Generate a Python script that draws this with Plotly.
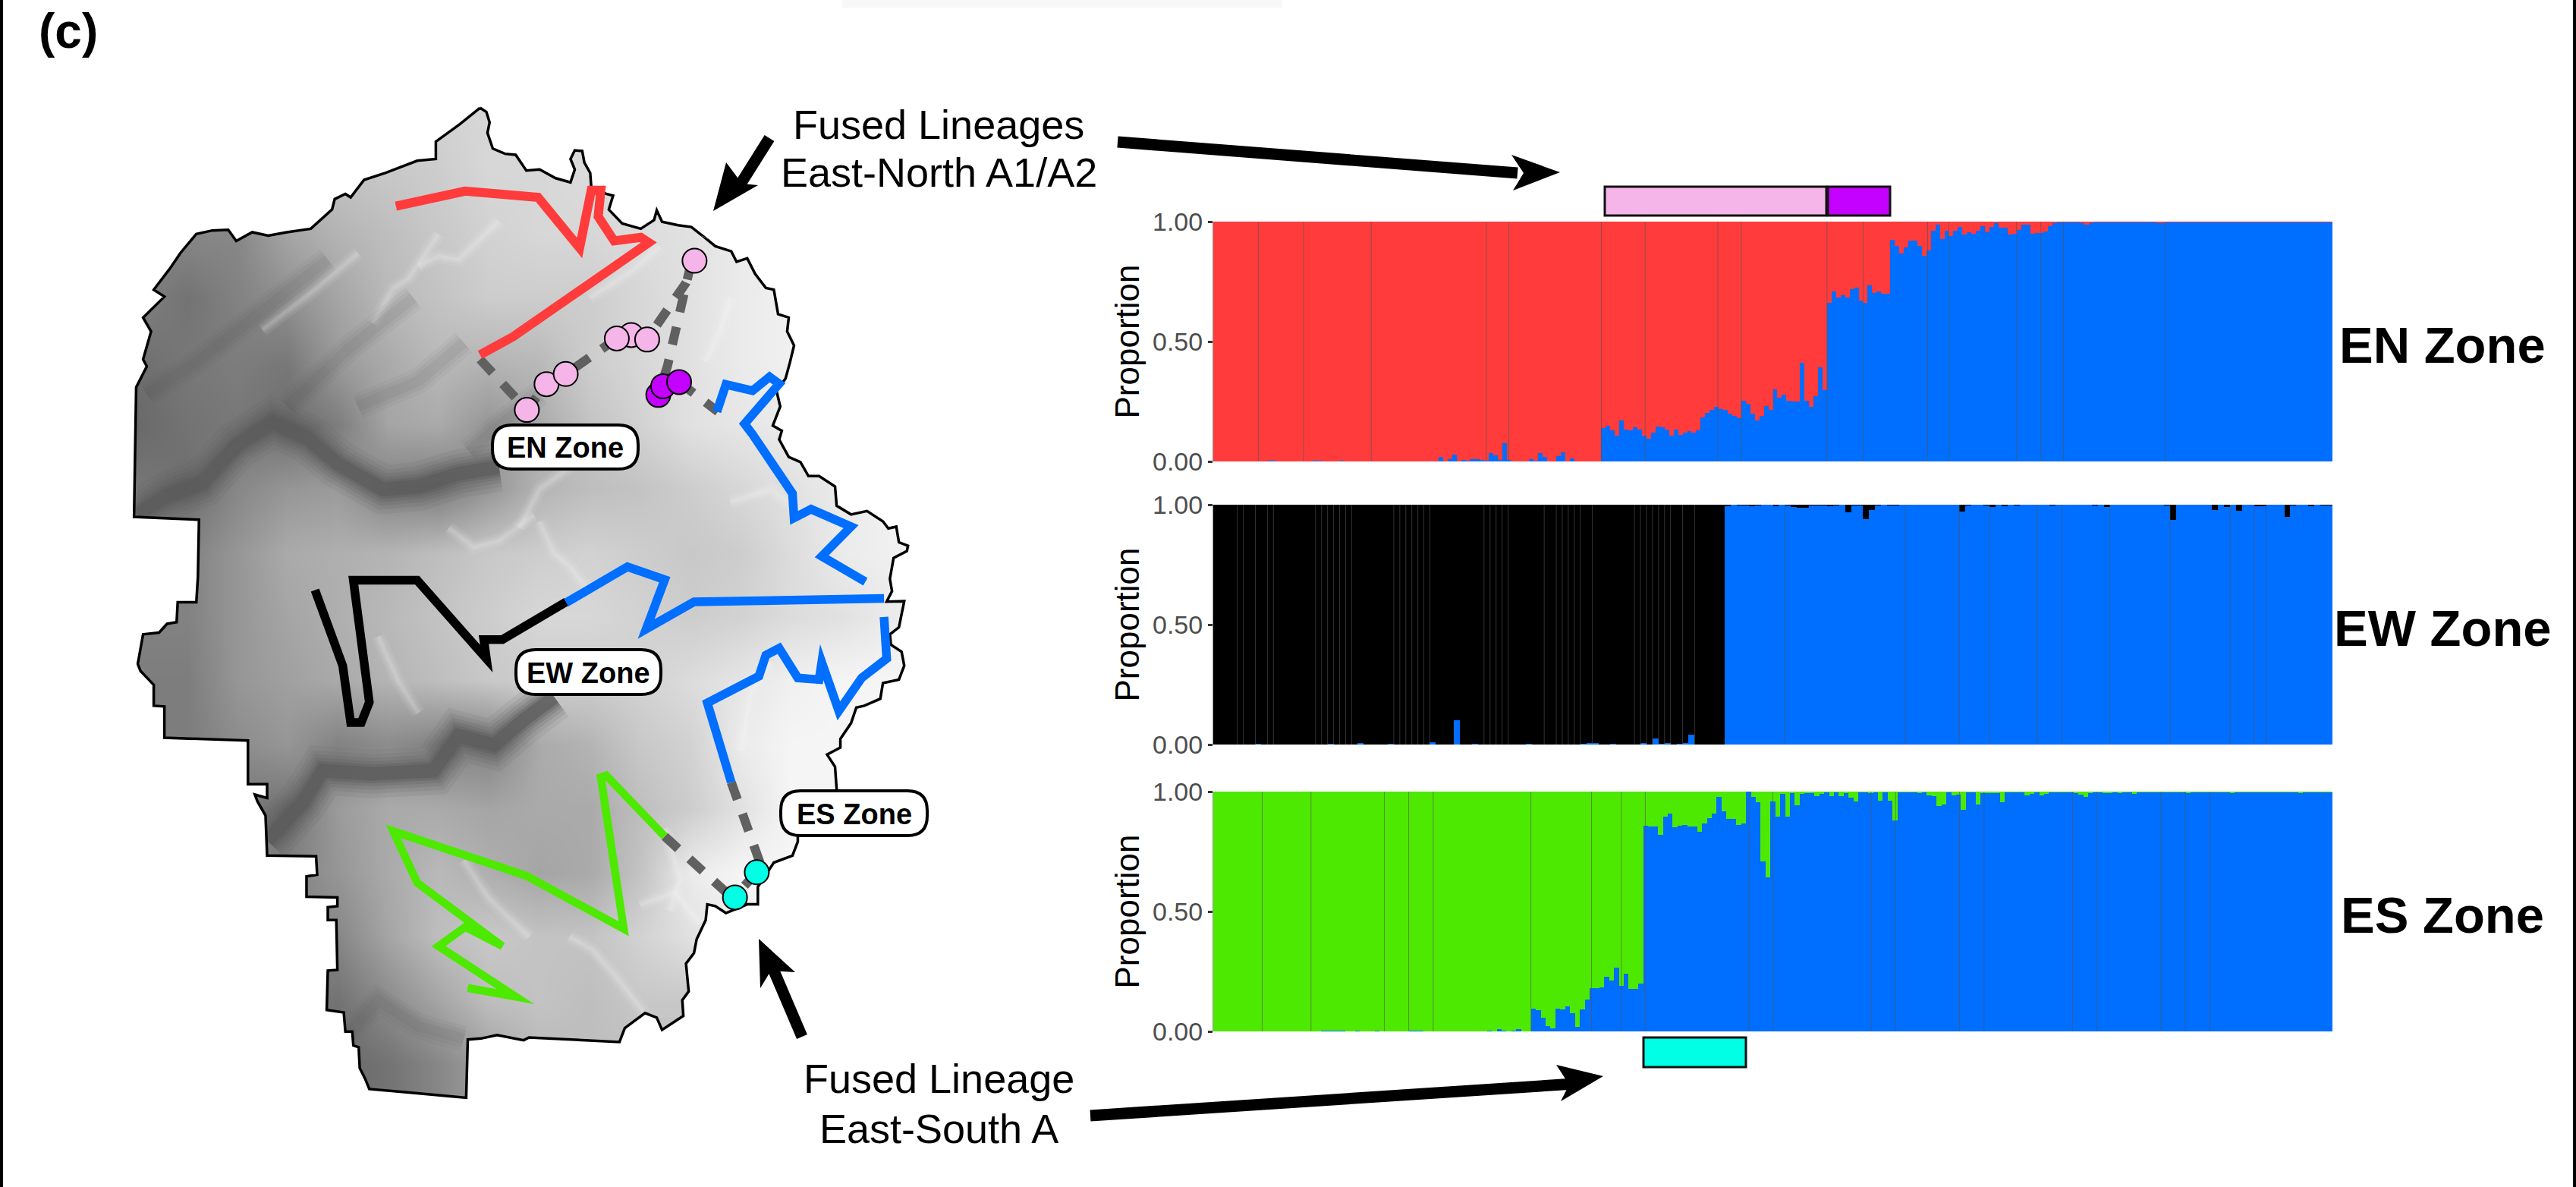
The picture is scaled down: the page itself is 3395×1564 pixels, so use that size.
import numpy as np
import plotly.graph_objects as go

W, H = 3395, 1564

# ---------- admixture proportions (blue share per individual) ----------
EN_BLUE = [
 0.001,0.001,0.001,0.001,0.001,0.001,0.001,0.001,0.001,0.001,0.001,0.001,0.002,0.002,0.001,0.001,0.001,0.001,0.001,0.001,
 0.001,0.001,0.002,0.002,0.001,0.001,0.001,0.001,0.002,0.001,0.001,0.001,0.001,0.001,0.001,0.001,0.001,0.001,0.001,0.001,
 0.001,0.001,0.001,0.001,0.001,0.001,0.001,0.001,0.001,0.001,
 0.020,0.000,0.010,0.028,0.000,0.005,0.004,0.009,0.008,0.006,0.002,0.035,0.024,0.005,0.077,0.005,0.000,0.000,0.001,0.001,
 0.008,0.004,0.034,0.020,0.001,0.001,0.023,0.038,0.001,0.012,0.001,0.001,0.001,0.001,0.001,0.001,
 .138,.148,.129,.109,.170,.133,.130,.142,.133,.108,.095,.119,.146,.141,.133,.108,.133,.112,.121,.126,
 .121,.129,.182,.204,.214,.228,.217,.214,.200,.190,.180,.253,.240,.200,.170,.190,.231,.215,.302,.267,
 .278,.253,.249,.249,.412,.254,.228,.272,.392,.298,
 .662,.709,.684,.692,.684,.717,.724,.671,.660,.734,.703,.708,.700,.698,
 .925,.899,.867,.894,.920,.920,.898,.858,.879,.963,.987,.927,.963,.940,.963,.977,.945,.957,.950,.963,
 .982,.955,.979,.993,.976,.974,.945,.950,.966,.986,.986,.950,.951,.951,.958,.980,.995,
 .997,.998,.997,.998,.997,.996,.988,.995,.997,.998,.998,.997,.998,.997,.998,.997,.998,.997,.997,.998,
 .997,.998,.995,.994,.997,.998,.997,.998,.997,.998,.997,.998,.997,.998,.997,.998,.997,.998,.997,.997,
 .998,.997,.998,.997,.997,.998,.997,.998,.997,.998,.997,.998,.997,.998,.997,.998,.997,.998,.997,.998,
 .997]

EW_BLUE = [
 0,0,0,0,0,0,0,.002,0,0,0,0,0,0,0,0,0,0,0,.002,0,0,0,0,.005,0,0,0,0,.002,0,0,0,0,0,0,.008,0,0,0,
 .100,0,0,.002,0,0,0,0,0,0,0,0,.002,0,0,0,0,0,0,0,.001,.002,.005,.005,0,0,.004,0,0,0,0,.006,0,.026,.002,.005,0,.002,.007,.042,
 0,.001,0,.001,0,
 .995,1.0,.997,.997,.995,.997,1.0,1.0,.996,1.0,.999,.992,.988,.987,.998,.997,.997,.994,.997,1.0,
 .969,.997,.999,.939,.979,.997,1.0,.999,.999,1.0,1.0,1.0,1.0,1.0,1.0,1.0,1.0,1.0,1.0,.973,
 .999,1.0,1.0,.997,.990,1.0,.994,1.0,.997,1.0,
 1.0,1.0,1.0,1.0,.997,1.0,1.0,1.0,1.0,1.0,1.0,.997,1.0,.992,1.0,1.0,1.0,1.0,1.0,1.0,
 1.0,1.0,1.0,.997,.937,1.0,1.0,1.0,1.0,1.0,1.0,.978,1.0,.992,1.0,.976,1.0,1.0,.996,.996,
 1.0,1.0,1.0,.950,.997,1.0,1.0,.994,1.0,.997,.997]

ES_BLUE = [
 .001,.001,.001,.001,.001,.001,.001,.001,.001,.001,.001,.001,.001,.001,.001,.001,.001,.001,.001,.001,
 .001,.001,.002,.002,.003,.003,.002,.001,.001,.002,.001,.001,.001,.002,.001,.001,.001,.001,.001,.001,
 .002,.002,.002,.001,.001,.001,.001,.001,.001,.001,.001,.001,.001,.001,.001,.001,.003,.001,.011,.004,.001,.002,.008,.001,.001,
 .094,.089,.057,.022,.012,.096,.091,.104,.075,.019,.091,.132,.179,.181,.183,.228,.212,.265,.189,.239,.178,.178,.199,
 .858,.855,.854,.820,.896,.908,.850,.857,.860,.856,.854,.833,.867,.890,.908,.979,.919,.886,.885,.862,.868,
 1.0,.979,.957,.709,.643,.960,.897,.989,.897,.994,.942,.989,.996,.996,.982,.989,.998,.981,.998,.982,.995,.974,.958,
 .997,.997,.995,.998,.961,.998,.963,.880,.999,.999,.999,.999,.993,.998,.984,.981,.940,.945,.998,.985,.987,.923,.998,.998,.947,
 .995,.994,.996,.995,.955,.998,.998,.998,.998,.984,.992,.998,.984,.992,.998,.998,.998,.998,.997,.995,.987,.979,.993,.998,.997,
 .995,.995,.998,.995,.998,.998,.990,
 .998,.997,.998,.998,.997,.998,.998,.997,.998,.998,.996,.998,.998,.997,.998,.998,.997,.998,.998,.996,
 .998,.997,.998,.998,.997,.998,.998,.997,.998,.998,.997,.998,.998,.996,.998,.998,.997,.998,.998,.997]

# seams between neighbouring bars that show as thin darker lines (bar-edge index)
EN_SEAMS = [10,20,35,60.5,65.5,86,95.7,111.8,117,136,144,158.3,163,178,183.4,188.4,211]
EW_SEAMS = [4,5,7,9,10,17,18,19,20,21,22,23,30,31,32,33,34,35,36,45,46,47,48,49,55,57,58,59,60,61,63,70,71,72,73,74,75,76,78,80,
            95,115,124,129,137,141,149,159,169,173,175]
ES_SEAMS = [10,20,35,40,45,65,77.4,83.5,88.4,109.6,114.5,134.6,139.6,152.7,157.7,175.8,180.8,193.9,198.9,203.9]

TICKS = [0, 0.5, 1]
PANELS = [("EN Zone", EN_BLUE, "#FF3B3B", EN_SEAMS, 292, 608),
          ("EW Zone", EW_BLUE, "#000000", EW_SEAMS, 665, 981),
          ("ES Zone", ES_BLUE, "#4DE900", ES_SEAMS, 1043, 1359)]
BLUE = "#006EFF"
PINK, PURPLE, CYAN = "#F5B5E8", "#C400FF", "#00FFE5"
DASH_GREY = "#606060"
FONT = "Liberation Sans"

# ---------- relief: grey level on a coarse grid ----------
RELIEF = [
 [170,170,180,190,200,205,210,215,215,215,220,220,220,220,220,220],
 [170,170,180,190,195,200,205,215,215,220,220,225,225,225,225,225],
 [130,135,135,165,180,190,200,210,215,215,220,225,235,235,235,235],
 [130,115,130,145,165,185,195,205,205,205,215,225,235,240,240,240],
 [110,120,125,120,155,170,185,180,185,205,215,225,235,240,240,240],
 [105,115,120,110,125,165,170,150,170,195,210,225,230,235,240,240],
 [120,110,135,150,155,130,125,150,180,190,195,205,215,225,235,240],
 [130,130,150,170,175,180,190,200,205,210,205,200,205,220,235,240],
 [130,130,150,165,175,185,195,205,215,215,210,205,210,220,225,235],
 [125,125,150,160,170,180,190,200,205,205,210,220,230,240,245,245],
 [125,125,140,150,130,140,130,130,170,180,200,210,235,245,245,245],
 [120,120,120,115,155,170,170,165,170,170,190,205,225,245,245,245],
 [130,130,130,130,150,170,185,175,165,170,195,235,245,245,245,245],
 [130,130,130,130,135,165,190,200,195,195,210,225,240,245,245,245],
 [125,125,125,125,115,140,165,190,195,190,200,200,240,245,245,245],
 [125,125,125,125,105,115,135,160,185,190,190,190,240,245,245,245],
]
RELIEF_X = [0,100,200,300,400,500,600,700,800,900,1000,1100,1200,1300,1400,1500]
RELIEF_Y = [0,100,200,300,400,500,600,700,800,900,1000,1100,1200,1300,1400,1500]

MERCED = [(0,640),(60,610),(130,590),(200,530),(270,495),(340,520),(400,560),(490,600),(560,595),(640,575),(720,565)]
TUOLUMNE = [(260,1150),(330,1090),(370,1040),(470,1045),(590,1040),(640,985),(710,1000),(770,960),(830,925)]
DARK_RIDGES = [
 [(20,450),(120,400),(250,320),(380,240)],[(300,470),(420,380),(550,300)],[(440,470),(560,430),(650,370)],
 [(660,540),(720,500),(800,450)],[(400,1470),(480,1400),(560,1440),(650,1460)],
]
STREAMS = [
 [(1050,1130),(1080,1210),(1060,1260)],[(1180,300),(1160,350),(1130,400)],[(800,650),(830,700),(860,720),(900,760)],
 [(620,660),(670,690),(720,680),(790,640)],[(560,250),(600,235),(640,240),(720,180)],[(470,340),(510,285),(540,270),(600,200)],
 [(480,830),(520,900),(560,950)],[(1000,1250),(1070,1230),(1120,1280)],[(860,1300),(905,1320),(950,1360),(1010,1420)],
 [(250,350),(350,290),(440,230)],[(900,300),(980,260),(1040,220)],[(1180,620),(1260,600),(1330,640)],
 [(1260,870),(1220,920),(1200,1010)],[(760,660),(800,600),(870,560)],[(650,1180),(700,1240),(780,1300)],
]

OUTLINE_N = [(688,48),(700,60),(706,90),(702,120),(712,165),(735,180),(755,183),(775,228),(800,225),(830,250),(858,262),
 (866,225),(858,195),(866,170),(880,172),(884,205),(895,235),(897,275),(925,295),(938,300),(930,340),(955,380),(990,395),
 (1015,370),(1020,342),(1030,375),(1060,385),(1085,390),(1110,420),(1130,445),(1160,460),(1170,490),(1190,480),(1205,525),
 (1225,565),(1240,570),(1248,640),(1268,650),(1265,690),(1278,730),(1270,780),(1262,825),(1245,860),(1252,905),(1238,960),
 (1255,975),(1250,1000),(1268,1050),(1290,1065),(1305,1105),(1325,1105),(1355,1135),(1358,1190),(1385,1215),(1415,1205),
 (1445,1235),(1455,1255),(1470,1250),(1475,1295),(1492,1305),(1490,1320),(1465,1340),(1458,1400),(1462,1435),(1452,1465)]
OUTLINE_S = [(1485,70),(1475,145),(1458,165),(1460,195),(1480,215),(1485,255),(1475,295),(1445,305),(1440,350),(1410,370),
 (1395,375),(1385,420),(1365,465),(1365,490),(1340,510),(1355,545),(1358,610),(1358,680),(1285,740),(1285,760),(1275,800),(1240,820),
 (1210,890),(1210,940),(1190,940),(1150,965),(1130,945),(1115,940),(1112,985),(1095,1040),(1090,1080),(1075,1110),(1080,1190),
 (1068,1215),(1070,1260),(1030,1300),(1020,1265),(998,1252),(960,1295),(950,1335),(780,1322),(770,1330),(720,1315),(690,1325),
 (665,1328),(662,1495),(640,1492),(570,1482),(480,1470),(472,1440),(462,1410),(460,1350),(450,1345),(448,1305),(435,1305),
 (432,1250),(400,1243),(402,1130),(420,1128),(418,985),(402,985),(402,948),(420,945),(420,920),(362,918),(362,860),(382,855),
 (380,802),(288,800),(285,685),(270,645),(265,625),(288,635),(288,595),(252,595),(252,470),(95,462),(95,372),(75,370),(75,310),
 (50,270),(45,250),(55,165),(85,160),(100,135),(118,130),(120,73),(155,73),(158,0)]
OUTLINE_W = [(160,1230),(38,1222),(42,850),(62,790),(55,770),(70,690),(55,650),(95,590),(75,570),(105,510),(125,465),(155,410),
 (185,400),(215,398),(230,430),(260,405),(290,415),(325,405),(370,395),(410,340),(415,310),(435,295),(445,305),(470,255),
 (510,235),(570,200),(605,195),(605,145),(650,95),(688,48)]

RED_LINE = [(530,330),(660,287),(797,305),(875,450),(897,285),(915,285),(910,360),(940,430),(990,420),(1005,435),(750,705),(688,757)]
BLUE_N = [(1133,920),(1150,842),(1200,860),(1232,820),(1250,840),(1185,955),(1200,985),(1275,1155),(1278,1225),(1310,1200),(1385,1250),(1330,1335),(1412,1408)]
BLACK_EW = [(850,72),(730,180),(695,180),(700,235),(570,10),(450,10),(480,360),(465,418),(445,418),(430,255),(378,38)]
BLUE_EW_N = [(850,1468),(965,1365),(1035,1402)]
BLUE_EW_S = [(1000,150),(1090,72),(1447,62)]
BLUE_ES = [(1447,115),(1452,235),(1405,290),(1362,385),(1330,245),(1325,295),(1285,290),(1250,205),(1225,225),(1212,285),(1115,362),(1160,590)]
GREEN_LINE = [(1035,745),(925,570),(915,575),(958,1010),(775,858),(525,730),(570,878),(730,1060),(660,1005),(610,1060),(755,1205),(665,1180)]

DASH_N = [[(688,770),(776,915),(813,841),(849,812),(945,710),(972,700),(1002,712),(1075,550),(1112,420)],
          [(1085,490),(1040,790),(1025,860)],[(1062,835),(1135,920)]]
DASH_S = [[(1160,590),(1215,825)],[(1035,745),(1150,905)],[(1208,848),(1165,920)]]

PINK_PTS = [(776,915),(813,841),(972,700),(849,812),(945,710),(1002,713),(1091,487)]
PURPLE_PTS = [(1023,872),(1032,847),(1062,835)]
CYAN_PTS = [(1208,848),(1167,920)]

# arrows in page pixels: shaft end, shaft start, head outline
ARROWS = [
 dict(shaft=[(1014,182),(975,244)], head=[(940,278),(957,214),(978,242),(999,244)]),
 dict(shaft=[(1473,187),(2000,228)], head=[(2056,227),(1992,204),(2008,228),(1994,251)]),
 dict(shaft=[(1057,1366),(1016,1270)], head=[(1000,1237),(1048,1281),(1016,1279),(1002,1302)]),
 dict(shaft=[(1437,1470),(2075,1428)], head=[(2113,1418),(2051,1403),(2068,1429),(2057,1451)]),
]
LEGEND_BOXES = [(2115,2407,246,284,PINK),(2409,2491,246,284,PURPLE),(2166,2301,1367,1406,CYAN)]
ZONE_TAGS = [("EN Zone",649,841,560,618),("EW Zone",680,871,856,915),("ES Zone",1029,1222,1042,1101)]

def fromN(p): return [150 + a/1.4255 for a, b in p], [120 + b/2.178 for a, b in p]
def fromS(p): return [150 + a/1.4255 for a, b in p], [760 + b/2.178 for a, b in p]
def fromW(p): return [180 + a/1.5077 for a, b in p], [140 + b/1.188 for a, b in p]

fig = go.Figure()

# relief
rx = np.array(RELIEF_X)/1.5077 + 180
ry = np.array(RELIEF_Y)/1.188 + 140
z = np.array(RELIEF, dtype=float)
z = np.pad(z, ((0,1),(1,1)), mode="edge")
rx = np.concatenate([[rx[0]-66.3], rx, [rx[-1]+66.3]])
ry = np.concatenate([ry, [ry[-1]+84.2]])
fig.add_trace(go.Heatmap(x=rx, y=ry, z=z, zmin=0, zmax=255, zsmooth="best", showscale=False,
                         colorscale=[[0,"#000000"],[1,"#FFFFFF"]], hoverinfo="skip", xaxis="x", yaxis="y"))
def mapline(x, y, color, width, dash=None):
    fig.add_trace(go.Scatter(x=x, y=y, mode="lines", line=dict(color=color, width=width, dash=dash, simplify=False),
                             showlegend=False, hoverinfo="skip", xaxis="x", yaxis="y"))
for s in STREAMS:
    xs, ys = fromW(s)
    for w, col in ((18,"rgba(255,255,255,0.07)"),(11,"rgba(255,255,255,0.09)"),(5,"rgba(255,255,255,0.13)")):
        mapline(xs, ys, col, w)
for r in DARK_RIDGES:
    xs, ys = fromW(r)
    for w, col in ((34,"rgba(70,70,70,0.05)"),(24,"rgba(70,70,70,0.06)"),(14,"rgba(70,70,70,0.07)")):
        mapline(xs, ys, col, w)
for c in (MERCED, TUOLUMNE):
    xs, ys = fromW(c)
    for w, col in ((64,"rgba(90,90,90,0.10)"),(52,"rgba(90,90,90,0.14)"),(42,"rgba(90,90,90,0.18)"),
                   (33,"rgba(90,90,90,0.24)"),(25,"rgba(90,90,90,0.35)"),(18,"rgba(90,90,90,0.6)")):
        mapline(xs, ys, col, w)

# white page around the park
ox = fromN(OUTLINE_N)[0] + fromS(OUTLINE_S)[0] + fromN(OUTLINE_W)[0]
oy = fromN(OUTLINE_N)[1] + fromS(OUTLINE_S)[1] + fromN(OUTLINE_W)[1]
mx = [50,1320,1320,50,50] + ox[::-1] + [50]
my = [60,60,1555,1555,60] + oy[::-1] + [60]
fig.add_trace(go.Scatter(x=mx, y=my, mode="lines", fill="toself", fillcolor="#FFFFFF", line=dict(width=0),
                         showlegend=False, hoverinfo="skip", xaxis="x", yaxis="y"))
mapline(ox, oy, "#000000", 3.5)

# dashed links
for d in DASH_N:
    mapline(*fromN(d), DASH_GREY, 12, "24px,20px")
for d in DASH_S:
    mapline(*fromS(d), DASH_GREY, 12, "24px,20px")
# contact-zone transects
mapline(*fromN(RED_LINE), "#FF3B3B", 12)
mapline(*fromN(BLUE_N), BLUE, 11.5)
mapline(*fromS(BLACK_EW), "#000000", 11.5)
bx1, by1 = fromN(BLUE_EW_N); bx2, by2 = fromS(BLUE_EW_S)
mapline(bx1+bx2, by1+by2, BLUE, 11.5)
mapline(*fromS(BLUE_ES), BLUE, 11.5)
mapline(*fromS(GREEN_LINE), "#4DE900", 10.5)
# fused-lineage localities
for pts, col, conv in ((PINK_PTS,PINK,fromN),(PURPLE_PTS,PURPLE,fromN),(CYAN_PTS,CYAN,fromS)):
    xs, ys = conv(pts)
    fig.add_trace(go.Scatter(x=xs, y=ys, mode="markers", marker=dict(size=32, color=col, line=dict(color="#000000", width=2)),
                             showlegend=False, hoverinfo="skip", xaxis="x", yaxis="y"))
# arrows
for a in ARROWS:
    mapline([p[0] for p in a["shaft"]], [p[1] for p in a["shaft"]], "#000000", 15)
    fig.add_trace(go.Scatter(x=[p[0] for p in a["head"]], y=[p[1] for p in a["head"]], mode="lines", fill="toself",
                             fillcolor="#000000", line=dict(width=0), showlegend=False, hoverinfo="skip", xaxis="x", yaxis="y"))

shapes, annots = [], []
def text(t, x, y, size, bold=False, color="#000000"):
    annots.append(dict(text=f"<b>{t}</b>" if bold else t, x=x, y=y, xref="x", yref="y", showarrow=False,
                       xanchor="center", yanchor="middle", font=dict(family=FONT, size=size, color=color)))

for x0, x1, y0, y1, col in LEGEND_BOXES:
    shapes.append(dict(type="rect", xref="x", yref="y", x0=x0, x1=x1, y0=y0, y1=y1, fillcolor=col,
                       line=dict(color="#111111", width=3)))
for t, x0, x1, y0, y1 in ZONE_TAGS:
    r = 26
    p = (f"M{x0+r},{y0} L{x1-r},{y0} Q{x1},{y0} {x1},{y0+r} L{x1},{y1-r} Q{x1},{y1} {x1-r},{y1} "
         f"L{x0+r},{y1} Q{x0},{y1} {x0},{y1-r} L{x0},{y0+r} Q{x0},{y0} {x0+r},{y0} Z")
    shapes.append(dict(type="path", xref="x", yref="y", path=p, fillcolor="#FFFFFF", line=dict(color="#000000", width=4)))
    text(t, (x0+x1)/2, (y0+y1)/2+1, 38, True)
# page frame and faint strip at the top
shapes.append(dict(type="rect", xref="x", yref="y", x0=1110, x1=1690, y0=0, y1=10, fillcolor="#F8F8F8", line=dict(width=0), layer="below"))
shapes.append(dict(type="line", xref="x", yref="y", x0=2, x1=2, y0=0, y1=H, line=dict(color="#000000", width=4)))
shapes.append(dict(type="line", xref="x", yref="y", x0=W-2, x1=W-2, y0=0, y1=H, line=dict(color="#000000", width=4)))

text("(c)", 90, 41, 64, True)
text("Fused Lineages", 1237, 164, 54)
text("East-North A1/A2", 1237, 227, 54)
text("Fused Lineage", 1237, 1421, 54)
text("East-South A", 1237, 1487, 54)

layout_axes = {}
layout_axes["xaxis"] = dict(domain=[0,1], range=[0,W], visible=False, fixedrange=True)
layout_axes["yaxis"] = dict(domain=[0,1], range=[H,0], visible=False, fixedrange=True)

# structure plots
for k, (name, blue, col, seams, top, bot) in enumerate(PANELS):
    xn, yn = f"x{k+2}", f"y{k+2}"
    idx = list(range(len(blue)))
    fig.add_trace(go.Bar(x=idx, y=blue, marker=dict(color=BLUE, line=dict(width=0)), showlegend=False,
                         hoverinfo="skip", xaxis=xn, yaxis=yn, name="Blue cluster"))
    fig.add_trace(go.Bar(x=idx, y=[1-v for v in blue], marker=dict(color=col, line=dict(width=0)), showlegend=False,
                         hoverinfo="skip", xaxis=xn, yaxis=yn, name=name))
    sx, sy = [], []
    for s in seams:
        sx += [s-0.5, s-0.5, None]; sy += [0, 1, None]
    fig.add_trace(go.Scatter(x=sx, y=sy, mode="lines", line=dict(color="rgba(85,85,85,0.6)", width=1), showlegend=False,
                             hoverinfo="skip", xaxis=xn, yaxis=yn))
    layout_axes[f"xaxis{k+2}"] = dict(domain=[1599/W, 3074/W], range=[-0.5, len(blue)-0.5], visible=False,
                                      anchor=yn, fixedrange=True)
    layout_axes[f"yaxis{k+2}"] = dict(domain=[1-bot/H, 1-top/H], range=[0,1], anchor=xn, tickvals=TICKS, tickformat=".2f",
                                      ticks="outside", ticklen=6, tickwidth=3, tickcolor="#333333", showgrid=False, zeroline=False,
                                      showline=True, linecolor="#9a9a9a", linewidth=1, fixedrange=True, automargin="left+width",
                                      tickfont=dict(family=FONT, size=34, color="#4D4D4D"),
                                      title=dict(text="Proportion", standoff=3, font=dict(family=FONT, size=44, color="#000000")))
    text(name, 3219, (top+bot)/2 + 4, 67, True)

fig.update_layout(width=W, height=H, margin=dict(l=0,r=0,t=0,b=0), paper_bgcolor="#FFFFFF", plot_bgcolor="rgba(0,0,0,0)",
                  barmode="stack", bargap=0, showlegend=False, shapes=shapes, annotations=annots, **layout_axes)

fig.write_html("out.html", config=dict(displayModeBar=False),
               post_script="document.body.style.margin='0';document.body.style.overflow='hidden';"
                           "var st=document.createElement('style');st.textContent='.js-line{stroke-miterlimit:12 !important;}';document.head.appendChild(st);")
